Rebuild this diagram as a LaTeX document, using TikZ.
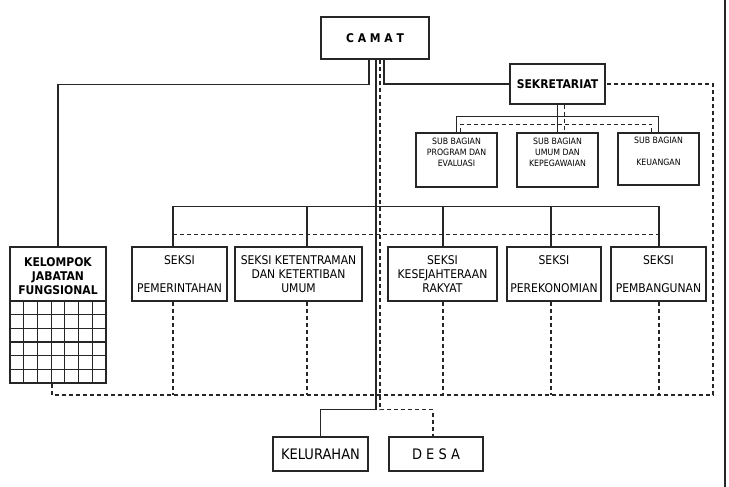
\documentclass[tikz,border=0pt]{standalone}
\usepackage{fontspec}
\setmainfont{DejaVu Sans}[FakeStretch=0.9]
\begin{document}
\begin{tikzpicture}[x=1pt,y=-1pt,
  box/.style={draw=black!85,line width=1.2pt,rectangle,inner sep=0pt,fill=white},
  con/.style={line width=1.2pt,draw=black!85},
  dsh/.style={line width=1.2pt,draw=black!85,dash pattern=on 4pt off 3pt},
  seks/.style={font=\fontsize{12}{14}\selectfont,align=center,inner sep=0pt},
  subt/.style={font=\fontsize{8.7}{11}\selectfont,align=center,inner sep=0pt},
  boldt/.style={font=\fontsize{12}{14}\selectfont\bfseries,align=center,inner sep=0pt},
  bigt/.style={font=\fontsize{14.5}{16}\selectfont,align=center,inner sep=0pt}]
\fill[white] (0,0) rectangle (729,487);
\useasboundingbox (0,0) rectangle (729,487);

% boxes
\node[box,boldt,minimum width=108pt,minimum height=42pt] (camat) at (375,38) {C A M A T};
\node[box,boldt,minimum width=95pt,minimum height=40pt] (sek) at (557.5,84) {SEKRETARIAT};

\node[box,minimum width=81pt,minimum height=54pt] (b1) at (456.5,160) {};
\node[box,minimum width=81pt,minimum height=54pt] (b2) at (557.5,160) {};
\node[box,minimum width=81pt,minimum height=52pt] (b3) at (658.5,159) {};
\node[subt] (b1t) at (456.5,152) {SUB BAGIAN\\PROGRAM DAN\\EVALUASI};
\node[subt] (b2t) at (557.5,152) {SUB BAGIAN\\UMUM DAN\\KEPEGAWAIAN};
\node[subt] (b3t) at (658.5,151) {SUB BAGIAN\\~\\KEUANGAN};

\node[box,seks,minimum width=95pt,minimum height=54pt] (s1) at (179.5,274) {SEKSI\\~\\PEMERINTAHAN};
\node[box,seks,minimum width=127pt,minimum height=54pt] (s2) at (298.5,274) {SEKSI KETENTRAMAN\\DAN KETERTIBAN\\UMUM};
\node[box,seks,minimum width=109pt,minimum height=54pt] (s3) at (442.5,274) {SEKSI\\KESEJAHTERAAN\\RAKYAT};
\node[box,seks,minimum width=94pt,minimum height=54pt] (s4) at (554,274) {SEKSI\\~\\PEREKONOMIAN};
\node[box,seks,minimum width=95pt,minimum height=54pt] (s5) at (658.5,274) {SEKSI\\~\\PEMBANGUNAN};

\node[box,minimum width=96pt,minimum height=136pt] (kjf) at (58,315) {};
\node[boldt] (kjft) at (58,276) {KELOMPOK\\JABATAN\\FUNGSIONAL};
\foreach \i in {1,...,6} \draw[line width=1.1pt,black!85] (10+\i*13.714,301) -- (10+\i*13.714,383);
\foreach \j in {0,...,5} \draw[line width=1.1pt,black!85] (10,301+\j*13.667) -- (106,301+\j*13.667);

\node[box,bigt,minimum width=95pt,minimum height=34pt] (kel) at (320.5,454) {KELURAHAN};
\node[box,bigt,minimum width=94pt,minimum height=34pt] (desa) at (436,454) {D E S A};

\coordinate (dr) at (713,395);
% attachment points of the seksi boxes
\coordinate (n1) at ([xshift=-6.5pt]s1.north);
\coordinate (n2) at ([xshift=8.5pt]s2.north);
\coordinate (n3) at ([xshift=0.5pt]s3.north);
\coordinate (n4) at ([xshift=-3pt]s4.north);
\coordinate (n5) at ([xshift=0.5pt]s5.north);
\coordinate (u1) at ([xshift=-6.5pt]s1.south);
\coordinate (u2) at ([xshift=8.5pt]s2.south);
\coordinate (u3) at ([xshift=0.5pt]s3.south);
\coordinate (u4) at ([xshift=-3pt]s4.south);
\coordinate (u5) at ([xshift=0.5pt]s5.south);

% solid connectors
\draw[con] ([xshift=-6pt]camat.south) -- ++(0,25) -| (kjf.north);
\draw[con] ([xshift=9pt]camat.south) |- (sek.west);
\draw[con] ([xshift=1pt]camat.south) -- ++(0,350) -| (kel.north);
\draw[con] (sek.south) -- (b2.north);
\draw[con] (b1.north) -- ++(0,-16) -| (b3.north);
\draw[con] (n1) -- ++(0,-40) -| (n5);
\foreach \s in {n2,n3,n4} \draw[con] (\s) -- ++(0,-40);

% dashed connectors
\draw[dsh] ([xshift=5pt]camat.south) -- ++(0,350) -| ([xshift=-3pt]desa.north);
\draw[dsh] ([xshift=7pt]sek.south) -- ([xshift=7pt]b2.north);
\draw[dsh] ([xshift=4pt]b1.north) -- ++(0,-8) -| ([xshift=-7pt]b3.north);
\draw[dsh] ([yshift=12pt]n1) -- ([yshift=12pt]n5);
\draw[dsh] ([xshift=-6pt]kjf.south) |- (dr) |- (sek.east);
\foreach \s in {u1,u2,u3,u4,u5} \draw[dsh] (\s) -- (\s |- dr);

% right border
\draw[line width=2pt,black!85] (725,0) -- (725,487);
\end{tikzpicture}
\end{document}
